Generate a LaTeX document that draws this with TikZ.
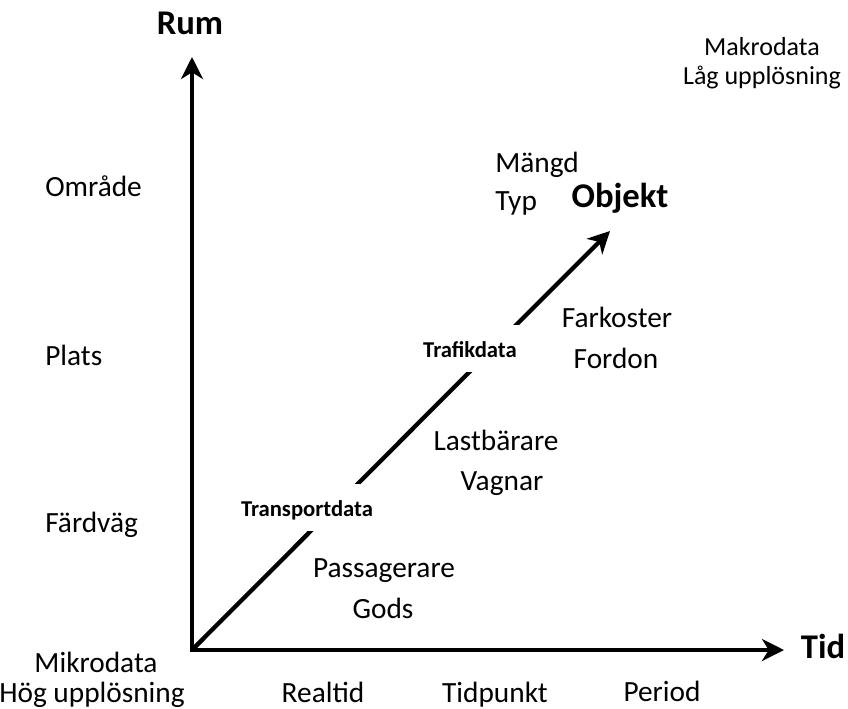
\documentclass[tikz,border=0pt]{standalone}
\usepackage{fontspec}
\setmainfont{Carlito}
\usetikzlibrary{arrows.meta}
\begin{document}
\begin{tikzpicture}[x=0.75pt,y=-0.75pt,
  axis/.style={line width=3.2pt,-{Stealth[length=16.5pt,width=16.5pt,inset=5pt]}},
  txt/.style={inner sep=0pt,anchor=base,font=\fontsize{22}{26}\selectfont},
  stxt/.style={inner sep=0pt,anchor=base,font=\fontsize{19.5}{23}\selectfont},
  ltxt/.style={txt,anchor=base west},
  big/.style={inner sep=0pt,anchor=base,font=\fontsize{26}{30}\selectfont\bfseries},
  lbl/.style={inner xsep=3pt,inner ysep=0pt,anchor=base,fill=white,text height=24pt,text depth=11pt,font=\fontsize{17}{20}\selectfont\bfseries}]
\useasboundingbox (0,0) rectangle (848,709);
\coordinate (O) at (192,650);
\coordinate (Y) at (192,57);
\coordinate (X) at (784,650);
\coordinate (D) at (610,231);
\coordinate (Ob) at (192,652);
\coordinate (Ol) at (190,650);
\draw[axis] (Ob) -- (Y);
\draw[axis] (Ol) -- (X);
\draw[axis] (O) -- (D);
\node[lbl] (trafik) at (470,357) {Trafikdata};
\node[lbl] (transport) at (307,516) {Transportdata};
\node[big] (rum) at (190,35) {Rum};
\node[big] (tid) at (823,658) {Tid};
\node[big] (objekt) at (620,208) {Objekt};
\node[stxt] (makro) at (762,56) {Makrodata};
\node[stxt] (lag) at (762,85) {Låg upplösning};
\node[txt] (mikro) at (96,672) {Mikrodata};
\node[txt] (hog) at (92,702) {Hög upplösning};
\node[ltxt] (omrade) at (45,197) {Område};
\node[ltxt] (plats) at (45,365) {Plats};
\node[ltxt] (fardvag) at (45,532) {Färdväg};
\node[ltxt] (mangd) at (495,173) {Mängd};
\node[ltxt] (typ) at (495,210) {Typ};
\node[txt] (farkoster) at (617,327) {Farkoster};
\node[txt] (fordon) at (616,368) {Fordon};
\node[txt] (lastbarare) at (496,450) {Lastbärare};
\node[txt] (vagnar) at (502,490) {Vagnar};
\node[txt] (passagerare) at (384,577) {Passagerare};
\node[txt] (gods) at (383,618) {Gods};
\node[txt] (realtid) at (323,702) {Realtid};
\node[txt] (tidpunkt) at (495,702) {Tidpunkt};
\node[txt] (period) at (662,701) {Period};
\end{tikzpicture}
\end{document}
